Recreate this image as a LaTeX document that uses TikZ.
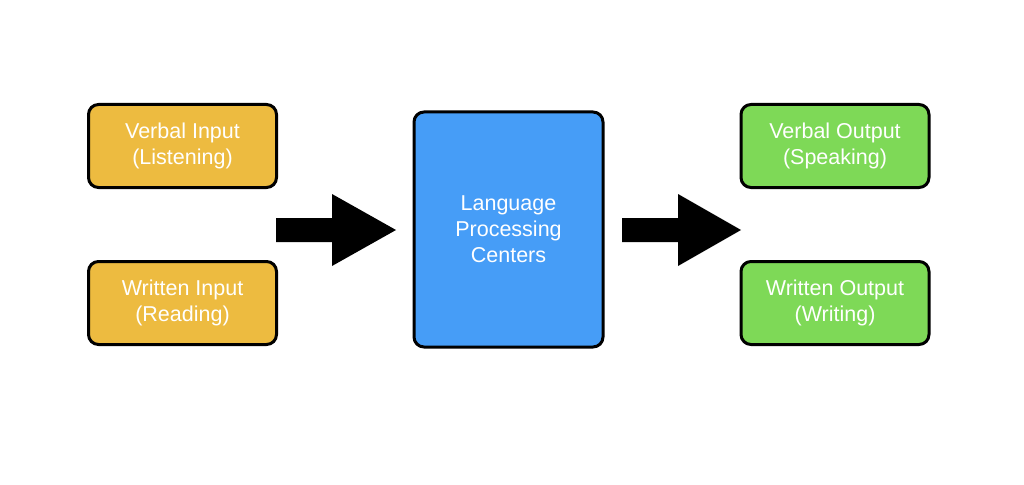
\documentclass[tikz,border=0pt]{standalone}
\usepackage{fontspec}
\setmainfont{Liberation Sans}
\definecolor{inorange}{HTML}{EDBB40}
\definecolor{procblue}{HTML}{469DF7}
\definecolor{outgreen}{HTML}{7ED957}
\begin{document}
\begin{tikzpicture}[x=1pt,y=-1pt,
  box/.style={draw=black, line width=3pt, rounded corners=10pt, text=white,
    align=center, inner sep=0pt,
    font=\fontsize{21.5}{26}\selectfont},
  smallbox/.style={box, minimum width=188pt, minimum height=83pt},
  blockarrow/.style={fill=black, draw=none}]
\useasboundingbox (0,0) rectangle (1024,484);
\fill[white] (0,0) rectangle (1024,484);
\node[smallbox, fill=inorange] (vin) at (182.5,146) {Verbal Input\\(Listening)};
\node[smallbox, fill=inorange] (win) at (182.5,303) {Written Input\\(Reading)};
\node[box, fill=procblue, minimum width=189pt, minimum height=235pt] (lpc) at (508.5,229.5) {Language\\Processing\\Centers};
\node[smallbox, fill=outgreen] (vout) at (835,146) {Verbal Output\\(Speaking)};
\node[smallbox, fill=outgreen] (wout) at (835,303) {Written Output\\(Writing)};
\fill[blockarrow] (276,218) -- (332,218) -- (332,194) -- (396,230) -- (332,266) -- (332,242) -- (276,242) -- cycle;
\fill[blockarrow] (622,218) -- (678,218) -- (678,194) -- (741,230) -- (678,266) -- (678,242) -- (622,242) -- cycle;
\end{tikzpicture}
\end{document}
